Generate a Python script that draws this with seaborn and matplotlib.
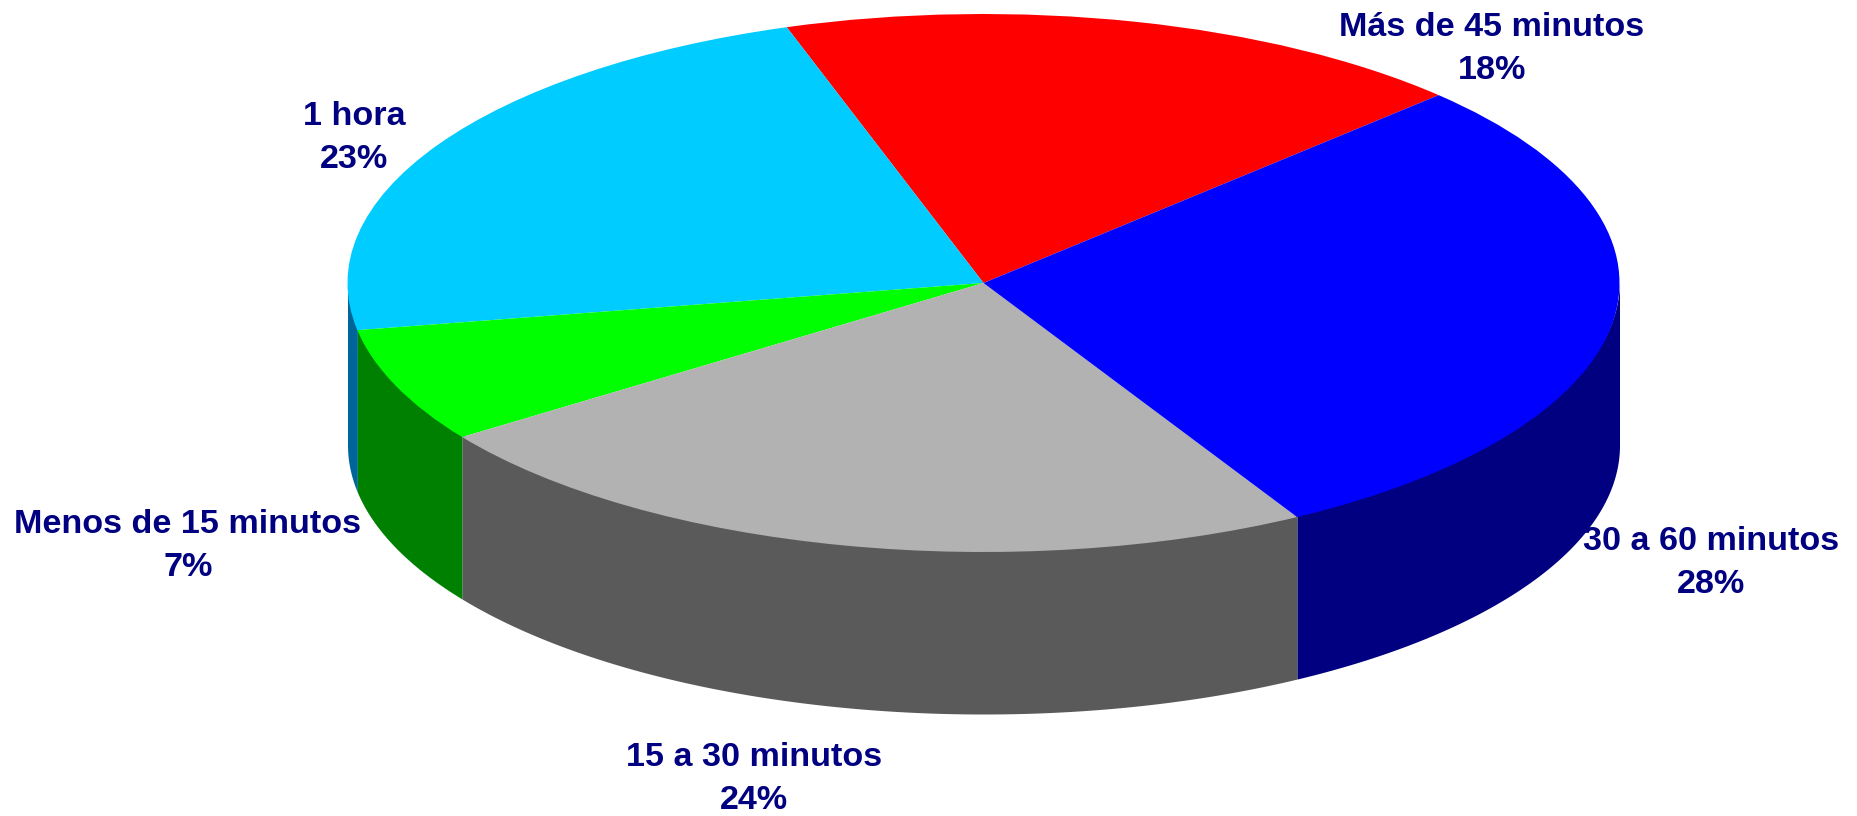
import numpy as np
import seaborn as sns
import matplotlib.pyplot as plt

categories = ["Más de 45 minutos", "1 hora", "Menos de 15 minutos", "15 a 30 minutos", "30 a 60 minutos"]
percent_labels = ["18%", "23%", "7%", "24%", "28%"]
# slice sizes (the printed labels are rounded)
shares = [17.7, 22.8, 6.9, 23.5, 29.1]

top_colors = ["#FF0000", "#00CCFF", "#00FF00", "#B2B2B2", "#0000FF"]
side_colors = ["#800000", "#006699", "#008000", "#5A5A5A", "#000080"]
text_color = "#000080"

W, H = 1858, 816
cx, cy = 983.5, 283     # centre of the top face, pixels
rx, ry = 636, 269       # semi axes of the top face
depth = 162

label_pos = [(1492, 49), (354, 138), (188, 546), (754, 779), (1711, 563)]


def visualize():
    sns.set_theme(style="white")
    plt.rcParams["font.family"] = ["Liberation Sans", "DejaVu Sans"]

    fig = plt.figure(figsize=(W / 100, H / 100), dpi=100)
    ax = fig.add_axes([0, 0, 1, 1])

    start = 44.3
    edges = start + np.cumsum([0] + shares) / sum(shares) * 360

    # walls first, only the front half of the rim can be seen
    d = depth / ry
    for i in range(len(shares)):
        for shift in (0, 360):
            a0 = max(edges[i] - shift, 180)
            a1 = min(edges[i + 1] - shift, 360)
            if a1 <= a0:
                continue
            t = np.radians(np.linspace(a0, a1, 200))
            # small overlap under the top face so no light seam shows
            ax.fill_between(np.cos(t), np.sin(t) + 0.01, np.sin(t) - d,
                            color=side_colors[i], linewidth=0, zorder=1)

    wedges, _ = ax.pie(shares, colors=sns.color_palette(top_colors), startangle=start,
                       radius=1, wedgeprops={"linewidth": 0, "zorder": 2})

    # squash the round pie into the tilted ellipse
    ax.set_aspect("auto")
    ax.set_xlim(-cx / rx, (W - cx) / rx)
    ax.set_ylim((cy - H) / ry, cy / ry)
    ax.set_axis_off()

    for name, pct, (x, y) in zip(categories, percent_labels, label_pos):
        fig.text(x / W, 1 - y / H, f"{name}\n{pct}", ha="center", va="center",
                 ma="center", color=text_color, fontsize=24.6, fontweight="bold",
                 linespacing=1.46, zorder=5)

    fig.savefig("out.png", dpi=100, facecolor="white")
    plt.close(fig)


if __name__ == "__main__":
    visualize()
